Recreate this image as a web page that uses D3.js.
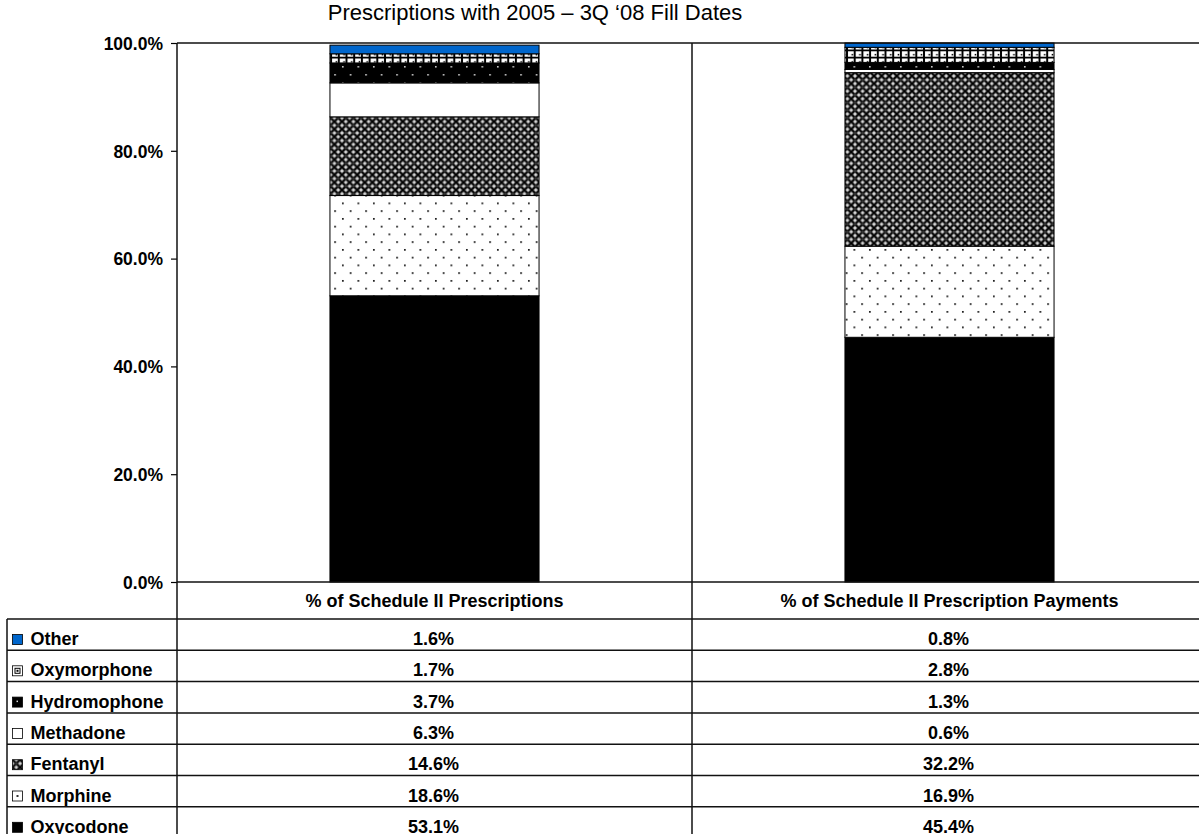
<!DOCTYPE html>
<html>
<head>
<meta charset="utf-8">
<script src="https://cdn.jsdelivr.net/npm/d3@7"></script>
<style>
  html, body { margin: 0; padding: 0; background: #fff; }
  svg { display: block; font-family: "Liberation Sans", Arial, sans-serif; }
</style>
</head>
<body>
<svg id="chart" width="1199" height="834"></svg>
<script>
// ---- data ----
const categories = ["% of Schedule II Prescriptions", "% of Schedule II Prescription Payments"];
const series = ["Oxycodone", "Morphine", "Fentanyl", "Methadone", "Hydromophone", "Oxymorphone", "Other"];
const oxycodone    = [53.1, 45.4];
const morphine     = [18.6, 16.9];
const fentanyl     = [14.6, 32.2];
const methadone    = [6.3, 0.6];
const hydromophone = [3.7, 1.3];
const oxymorphone  = [1.7, 2.8];
const other        = [1.6, 0.8];
const yTicks = [0, 20, 40, 60, 80, 100];
const titleText = "Prescriptions with 2005 \u2013 3Q \u201808 Fill Dates";

const valuesBySeries = {
  "Oxycodone": oxycodone, "Morphine": morphine, "Fentanyl": fentanyl,
  "Methadone": methadone, "Hydromophone": hydromophone,
  "Oxymorphone": oxymorphone, "Other": other
};

// ---- layout ----
const axisX = 177, plotRight = 1207, yTop = 43, yBottom = 582;
const headerBottom = 619, rowH = 31.3;
const tableLeft = 7;

const svg = d3.select("#chart");
const defs = svg.append("defs");

// patterns
function pat(id, w, h, build) {
  const p = defs.append("pattern").attr("id", id).attr("patternUnits", "userSpaceOnUse")
    .attr("width", w).attr("height", h);
  build(p);
}
pat("pMorphine", 15.5, 15.5, p => {
  p.append("rect").attr("width", 15.5).attr("height", 15.5).attr("fill", "#fff");
  p.append("rect").attr("x", 1).attr("y", 1).attr("width", 1.7).attr("height", 1.7).attr("fill", "#111");
  p.append("rect").attr("x", 8.75).attr("y", 8.75).attr("width", 1.7).attr("height", 1.7).attr("fill", "#111");
});
pat("pHydro", 15.5, 16, p => {
  p.append("rect").attr("width", 15.5).attr("height", 16).attr("fill", "#000");
  p.append("rect").attr("x", 1).attr("y", 2).attr("width", 1.6).attr("height", 1.6).attr("fill", "#ccc");
  p.append("rect").attr("x", 8.75).attr("y", 10).attr("width", 1.6).attr("height", 1.6).attr("fill", "#ccc");
});
pat("pFentanyl", 7.6, 7.6, p => {
  p.append("rect").attr("width", 7.6).attr("height", 7.6).attr("fill", "#8c8c8c");
  p.append("path").attr("d", "M0,0 L7.6,7.6 M7.6,0 L0,7.6").attr("stroke", "#000").attr("stroke-width", 1.8);
  p.append("rect").attr("x", 3.2).attr("y", 0).attr("width", 1.2).attr("height", 1.0).attr("fill", "#fff");
  p.append("rect").attr("x", 0).attr("y", 3.2).attr("width", 1.0).attr("height", 1.2).attr("fill", "#fff");
  p.append("rect").attr("x", 6.6).attr("y", 3.2).attr("width", 1.0).attr("height", 1.2).attr("fill", "#fff");
  p.append("rect").attr("x", 3.2).attr("y", 6.6).attr("width", 1.2).attr("height", 1.0).attr("fill", "#fff");
  p.append("rect").attr("x", 3.3).attr("y", 3.3).attr("width", 1.0).attr("height", 1.0).attr("fill", "#bbb");
});
pat("pOxymorphone", 7.7, 7.2, p => {
  p.append("rect").attr("width", 7.7).attr("height", 7.2).attr("fill", "#000");
  p.append("rect").attr("x", 1.0).attr("y", 0.9).attr("width", 5.7).attr("height", 5.4).attr("fill", "#fff");
  p.append("rect").attr("x", 4.5).attr("y", 3.5).attr("width", 1.5).attr("height", 1.5).attr("fill", "#000");
});

const fills = {
  "Oxycodone": "#000", "Morphine": "url(#pMorphine)", "Fentanyl": "url(#pFentanyl)",
  "Methadone": "#fff", "Hydromophone": "url(#pHydro)", "Oxymorphone": "url(#pOxymorphone)",
  "Other": "#0066cc"
};

// scales
const x = d3.scaleBand().domain(categories).range([axisX, plotRight]).padding(0);
const barW = x.bandwidth() * 0.406;
const y = d3.scaleLinear().domain([0, 100]).range([yBottom, yTop]);

// stack
const rows = categories.map((c, i) => {
  const o = { category: c };
  series.forEach(s => o[s] = valuesBySeries[s][i]);
  return o;
});
const stacked = d3.stack().keys(series)(rows);

// bars
const gBars = svg.append("g");
stacked.forEach(layer => {
  gBars.selectAll(null).data(layer).join("rect")
    .attr("x", d => x(d.data.category) + (x.bandwidth() - barW) / 2)
    .attr("y", d => y(d[1]))
    .attr("width", barW)
    .attr("height", d => y(d[0]) - y(d[1]))
    .attr("fill", fills[layer.key])
    .attr("stroke", "#000").attr("stroke-width", 1);
});

// y axis
const yAxis = d3.axisLeft(y).tickValues(yTicks).tickSize(6).tickPadding(8)
  .tickFormat(d => d3.format(".1f")(d) + "%");
const gy = svg.append("g").attr("transform", `translate(${axisX},0)`).call(yAxis);
gy.select(".domain").remove();
gy.selectAll(".tick line").attr("stroke", "#000").attr("stroke-width", 1.2);
gy.selectAll(".tick text").attr("font-size", 17.5).attr("font-weight", "bold")
  .attr("fill", "#000").attr("font-family", "Liberation Sans, Arial, sans-serif")
  .attr("dy", "0.36em");

// frame lines
const lineColor = "#111";
svg.append("line").attr("x1", axisX).attr("x2", 1199).attr("y1", yTop).attr("y2", yTop)
  .attr("stroke", lineColor).attr("stroke-width", 1.5);
svg.append("line").attr("x1", axisX).attr("x2", axisX).attr("y1", yTop).attr("y2", 834)
  .attr("stroke", lineColor).attr("stroke-width", 1.5);
categories.slice(1).forEach(c => {
  svg.append("line").attr("x1", x(c)).attr("x2", x(c)).attr("y1", yTop).attr("y2", 834)
    .attr("stroke", lineColor).attr("stroke-width", 1.5);
});

// table
const tableSeries = series.slice().reverse();
const rowY = d3.scaleBand().domain(tableSeries).range([headerBottom, headerBottom + rowH * tableSeries.length]);

// header row line (0%)
svg.append("line").attr("x1", axisX).attr("x2", 1199).attr("y1", yBottom).attr("y2", yBottom)
  .attr("stroke", lineColor).attr("stroke-width", 1.5);
// header labels
svg.append("g").selectAll("text").data(categories).join("text")
  .attr("x", d => x(d) + x.bandwidth() / 2 - 0)
  .attr("y", 607)
  .attr("text-anchor", "middle").attr("font-size", 18).attr("font-weight", "bold")
  .text(d => d);

// row lines
tableSeries.forEach(s => {
  svg.append("line").attr("x1", tableLeft).attr("x2", 1199).attr("y1", rowY(s)).attr("y2", rowY(s))
    .attr("stroke", lineColor).attr("stroke-width", 1.5);
});
svg.append("line").attr("x1", tableLeft).attr("x2", tableLeft).attr("y1", headerBottom).attr("y2", 834)
  .attr("stroke", lineColor).attr("stroke-width", 1.5);

// legend swatches + names
const gRows = svg.append("g");
tableSeries.forEach(s => {
  const top = rowY(s);
  const sw = gRows.append("g").attr("transform", `translate(12.5,${top + 15.5})`);
  if (s === "Other") {
    sw.append("rect").attr("width", 10).attr("height", 10).attr("fill", "#0066cc").attr("stroke", "#000").attr("stroke-width", 0.8);
  } else if (s === "Oxycodone") {
    sw.append("rect").attr("width", 10).attr("height", 10).attr("fill", "#000").attr("stroke", "#000").attr("stroke-width", 0.8);
  } else if (s === "Methadone") {
    sw.append("rect").attr("width", 10).attr("height", 10).attr("fill", "#fff").attr("stroke", "#000").attr("stroke-width", 0.8);
  } else if (s === "Morphine") {
    sw.append("rect").attr("width", 10).attr("height", 10).attr("fill", "#fff").attr("stroke", "#000").attr("stroke-width", 0.8);
    sw.append("rect").attr("x", 4).attr("y", 4).attr("width", 2).attr("height", 2).attr("fill", "#333");
  } else if (s === "Hydromophone") {
    sw.append("rect").attr("width", 10).attr("height", 10).attr("fill", "#000").attr("stroke", "#000").attr("stroke-width", 0.8);
    sw.append("rect").attr("x", 4).attr("y", 3.5).attr("width", 1.5).attr("height", 1.5).attr("fill", "#ddd");
  } else if (s === "Oxymorphone") {
    sw.append("rect").attr("width", 10).attr("height", 10).attr("fill", "#fff").attr("stroke", "#000").attr("stroke-width", 0.8);
    sw.append("rect").attr("x", 2.5).attr("y", 2.5).attr("width", 5).attr("height", 5).attr("fill", "#fff").attr("stroke", "#000").attr("stroke-width", 1);
    sw.append("rect").attr("x", 4).attr("y", 4).attr("width", 2).attr("height", 2).attr("fill", "#000");
  } else if (s === "Fentanyl") {
    sw.append("rect").attr("width", 10).attr("height", 10).attr("fill", "url(#pFentanyl)").attr("stroke", "#000").attr("stroke-width", 0.8);
  }
  gRows.append("text").attr("x", 30.5).attr("y", top + 26).attr("font-size", 18).attr("font-weight", "bold").text(s);
  categories.forEach((c, i) => {
    gRows.append("text").attr("x", x(c) + x.bandwidth() / 2 - 1).attr("y", top + 26)
      .attr("text-anchor", "middle").attr("font-size", 18).attr("font-weight", "bold")
      .text(d3.format(".1f")(valuesBySeries[s][i]) + "%");
  });
});

// title
svg.append("text").attr("x", 535).attr("y", 20).attr("text-anchor", "middle")
  .attr("font-size", 22).attr("fill", "#000").text(titleText);
</script>
</body>
</html>
